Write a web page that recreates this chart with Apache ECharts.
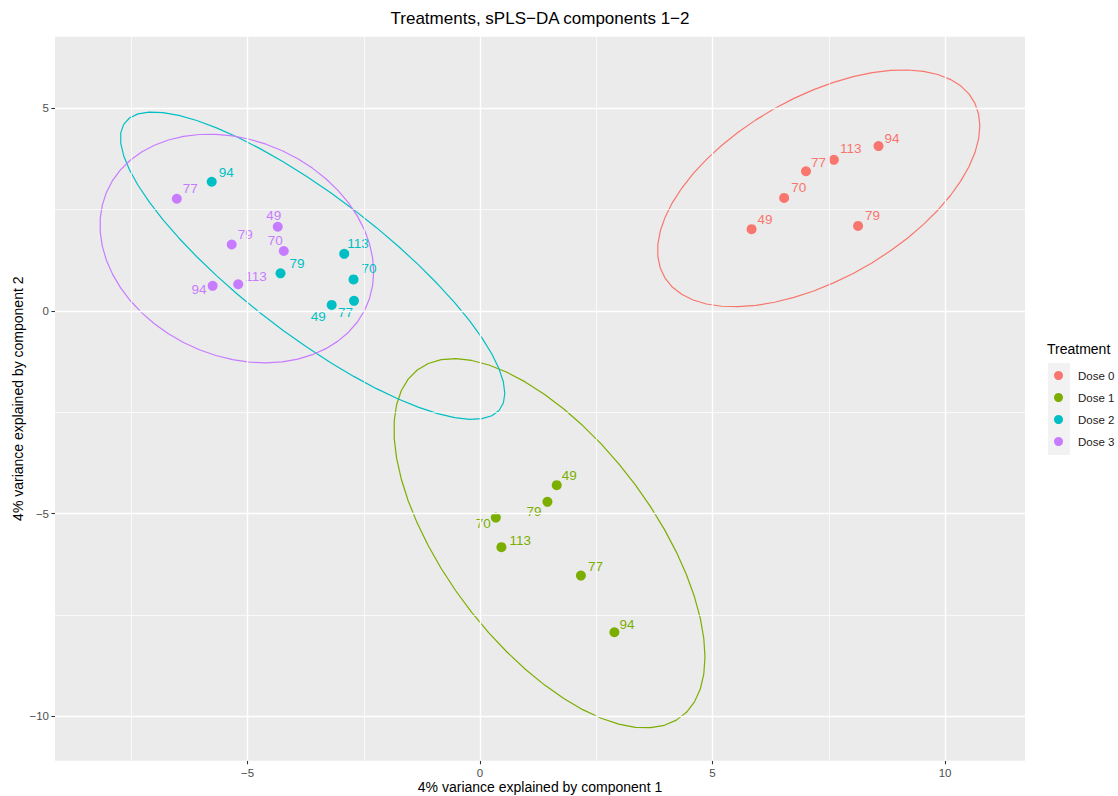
<!DOCTYPE html>
<html>
<head>
<meta charset="utf-8">
<title>Treatments, sPLS-DA components 1-2</title>
<script src="https://cdn.jsdelivr.net/npm/echarts@6/dist/echarts.min.js"></script>
<style>
  html, body { margin: 0; padding: 0; background: #ffffff; }
  #chart { width: 1118px; height: 796px; }
</style>
</head>
<body>
<div id="chart"></div>
<script>
// Sample identifiers (same order in every treatment group)
const sampleIds = ['49', '70', '77', '79', '94', '113'];

// Treatment groups and their colours
const groups = ['Dose 0', 'Dose 1', 'Dose 2', 'Dose 3'];
const groupColors = ['#F8766D', '#7CAE00', '#00BFC4', '#C77CFF'];

// sPLS-DA scores: component 1 (x) and component 2 (y) per sample
const dose0X = [5.84, 6.54, 7.01, 8.13, 8.57, 7.61];
const dose0Y = [2.02, 2.79, 3.45, 2.10, 4.07, 3.73];
const dose1X = [1.65, 0.34, 2.17, 1.45, 2.89, 0.46];
const dose1Y = [-4.30, -5.10, -6.53, -4.71, -7.93, -5.83];
const dose2X = [-3.19, -2.72, -2.71, -4.29, -5.77, -2.92];
const dose2Y = [0.15, 0.78, 0.25, 0.93, 3.19, 1.41];
const dose3X = [-4.35, -4.22, -6.52, -5.34, -5.75, -5.20];
const dose3Y = [2.08, 1.48, 2.77, 1.64, 0.62, 0.66];

// Axis breaks
const xTicks = [-5, 0, 5, 10];
const yTicks = [-10, -5, 0, 5];
const xMinorBreaks = [-7.5, -2.5, 2.5, 7.5];
const yMinorBreaks = [-7.5, -2.5, 2.5];

// Text label placement next to each point: [align, dx, dy] in pixels from the point centre
const labelNudge = [
  [['left', 6, -10], ['left', 7, -10], ['left', 5, -9], ['left', 7, -10], ['left', 6, -8], ['left', 6, -11]],
  [['left', 5, -10], ['right', -5, 6], ['left', 7, -9], ['right', -6, 10], ['left', 5, -8], ['left', 8, -7]],
  [['right', -6, 12], ['left', 8, -11], ['right', -1, 12], ['left', 9, -10], ['left', 7, -9], ['left', 3, -10]],
  [['center', -4, -11], ['right', -1, -11], ['left', 6, -10], ['left', 6, -10], ['right', -6, 4], ['left', 7, -8]]
];

const groupX = [dose0X, dose1X, dose2X, dose3X];
const groupY = [dose0Y, dose1Y, dose2Y, dose3Y];

const FONT = '"Liberation Sans", Arial, Helvetica, sans-serif';
const POINT_SIZE = 10;
const fmt = v => String(v).replace('-', '\u2212');

// 95% confidence ellipse of a group (as ggplot2's stat_ellipse):
// centre = mean, shape = sample covariance, radius = sqrt(2 * F(0.95; 2, n-1))
function confidenceEllipse(xs, ys, level, segments) {
  const n = xs.length;
  let mx = 0, my = 0;
  for (let i = 0; i < n; i++) { mx += xs[i]; my += ys[i]; }
  mx /= n; my /= n;
  let sxx = 0, syy = 0, sxy = 0;
  for (let i = 0; i < n; i++) {
    const dx = xs[i] - mx, dy = ys[i] - my;
    sxx += dx * dx; syy += dy * dy; sxy += dx * dy;
  }
  sxx /= (n - 1); syy /= (n - 1); sxy /= (n - 1);
  const df2 = n - 1;
  const fq = df2 / 2 * (Math.pow(1 - level, -2 / df2) - 1); // F quantile, df1 = 2
  const r = Math.sqrt(2 * fq);
  const r11 = Math.sqrt(sxx);
  const r12 = sxy / r11;
  const r22 = Math.sqrt(Math.max(syy - r12 * r12, 0));
  const pts = [];
  for (let k = 0; k <= segments; k++) {
    const a = 2 * Math.PI * k / segments;
    const c = Math.cos(a), s = Math.sin(a);
    pts.push([mx + r * c * r11, my + r * (c * r12 + s * r22)]);
  }
  return pts;
}

const series = [];

// Panel grid lines (major and minor)
series.push({
  type: 'scatter', name: 'grid-major', data: [], silent: true, z: 1,
  markLine: {
    silent: true, symbol: ['none', 'none'], animation: false,
    label: { show: false },
    lineStyle: { color: '#ffffff', width: 1.4, type: 'solid', opacity: 1 },
    emphasis: { disabled: true },
    data: xTicks.map(v => ({ xAxis: v })).concat(yTicks.map(v => ({ yAxis: v })))
  }
});
series.push({
  type: 'scatter', name: 'grid-minor', data: [], silent: true, z: 1,
  markLine: {
    silent: true, symbol: ['none', 'none'], animation: false,
    label: { show: false },
    lineStyle: { color: '#ffffff', width: 0.7, type: 'solid', opacity: 1 },
    emphasis: { disabled: true },
    data: xMinorBreaks.map(v => ({ xAxis: v })).concat(yMinorBreaks.map(v => ({ yAxis: v })))
  }
});

// Ellipses
groups.forEach((g, gi) => {
  series.push({
    type: 'line', name: g + ' ellipse', silent: true, z: 3,
    data: confidenceEllipse(groupX[gi], groupY[gi], 0.95, 51),
    showSymbol: false, symbol: 'none', smooth: false,
    lineStyle: { color: groupColors[gi], width: 1.2 },
    itemStyle: { color: groupColors[gi] },
    emphasis: { disabled: true }
  });
});

// Sample points with their ids
groups.forEach((g, gi) => {
  series.push({
    type: 'scatter', name: g, z: 4,
    symbol: 'circle', symbolSize: POINT_SIZE,
    itemStyle: { color: groupColors[gi], opacity: 1 },
    emphasis: { disabled: true },
    label: {
      show: true, formatter: '{b}',
      color: groupColors[gi], fontSize: 13.5, fontFamily: FONT,
      verticalAlign: 'middle'
    },
    data: sampleIds.map((id, i) => {
      const [align, dx, dy] = labelNudge[gi][i];
      return {
        name: id,
        value: [groupX[gi][i], groupY[gi][i]],
        label: { align: align, verticalAlign: 'middle', position: [POINT_SIZE / 2 + dx, POINT_SIZE / 2 + dy] }
      };
    })
  });
});

const chart = echarts.init(document.getElementById('chart'), null, { renderer: 'svg' });
chart.setOption({
  animation: false,
  backgroundColor: '#ffffff',
  title: [
    {
      text: 'Treatments, sPLS\u2212DA components 1\u22122',
      left: 540, top: 10, padding: 0, textAlign: 'center',
      textStyle: { fontSize: 17, fontWeight: 'normal', color: '#000000', fontFamily: FONT }
    },
    {
      text: 'Treatment',
      left: 1047, top: 342, padding: 0,
      textStyle: { fontSize: 14, fontWeight: 'normal', color: '#000000', fontFamily: FONT }
    }
  ],
  legend: {
    orient: 'vertical', left: 1054, top: 369.5, padding: 0,
    itemWidth: 9, itemHeight: 9, itemGap: 10,
    selectedMode: false,
    data: groups.map(g => ({ name: g, icon: 'circle' })),
    formatter: name => '{t|' + name + '}',
    textStyle: {
      fontSize: 11.5, color: '#1a1a1a', fontFamily: FONT,
      rich: { t: { fontSize: 11.5, color: '#1a1a1a', fontFamily: FONT, padding: [0, 0, 0, 10] } }
    }
  },
  graphic: [
    {
      type: 'rect', left: 1048, top: 363, z: -1, silent: true,
      shape: { width: 22, height: 92 },
      style: { fill: '#F2F2F2' }
    }
  ],
  grid: {
    left: 55, top: 36.7, width: 970, height: 724,
    show: true, backgroundColor: '#EBEBEB', borderWidth: 0,
    containLabel: false, outerBoundsMode: 'none'
  },
  xAxis: {
    type: 'value', min: -9.14, max: 11.72,
    name: '4% variance explained by component 1',
    nameLocation: 'middle', nameGap: 19, nameMoveOverlap: false,
    nameTextStyle: { fontSize: 14, color: '#000000', fontFamily: FONT },
    axisLine: { show: false, onZero: false },
    axisTick: { show: true, customValues: xTicks, length: 3.6, lineStyle: { color: '#333333', width: 1.1 } },
    axisLabel: { customValues: xTicks, formatter: fmt, color: '#4D4D4D', fontSize: 11.5, margin: 6, fontFamily: FONT },
    splitLine: { show: false },
    minorSplitLine: { show: false }
  },
  yAxis: {
    type: 'value', min: -11.10, max: 6.77,
    name: '4% variance explained by component 2',
    nameLocation: 'middle', nameGap: 30, nameMoveOverlap: false,
    nameTextStyle: { fontSize: 14, color: '#000000', fontFamily: FONT },
    axisLine: { show: false, onZero: false },
    axisTick: { show: true, customValues: yTicks, length: 3.6, lineStyle: { color: '#333333', width: 1.1 } },
    axisLabel: { customValues: yTicks, formatter: fmt, color: '#4D4D4D', fontSize: 11.5, margin: 6, fontFamily: FONT },
    splitLine: { show: false },
    minorSplitLine: { show: false }
  },
  series: series
});
</script>
</body>
</html>
